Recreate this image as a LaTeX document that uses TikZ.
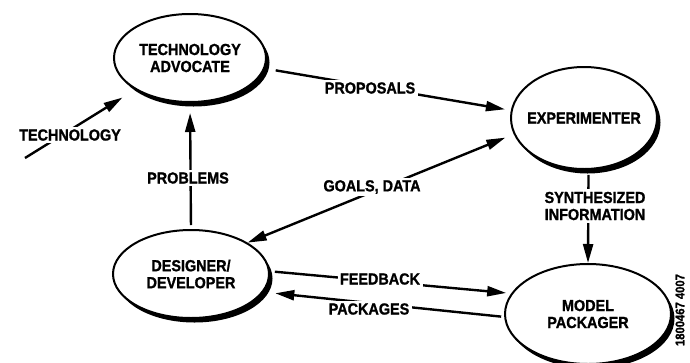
\documentclass[tikz,border=0pt]{standalone}
\usepackage{fontspec}
\newfontfamily\dfont{Liberation Sans}[FakeStretch=0.9, BoldFeatures={FakeBold=1.2}]
\usetikzlibrary{shapes.geometric,shadows,arrows.meta}
\begin{document}
\begin{tikzpicture}[x=1pt,y=-1pt,
  txt/.style={font=\dfont\bfseries\fontsize{16}{17}\selectfont},
  role/.style={ellipse, draw, line width=2pt, fill=white, inner sep=0pt, align=center, txt,
    drop shadow={shadow xshift=3.5pt, shadow yshift=-4.5pt, fill=black, opacity=1}},
  flow/.style={line width=2.4pt, -{Triangle[length=19pt,width=10pt]}},
  bothflow/.style={line width=2.4pt, {Triangle[length=19pt,width=10pt]}-{Triangle[length=19pt,width=10pt]}},
  lbl/.style={fill=white, inner sep=2.5pt, align=center, txt}]
\useasboundingbox (0,0) rectangle (690,362);

\node[role, minimum width=152pt, minimum height=88pt] (adv) at (190,58) {TECHNOLOGY\\ADVOCATE};
\node[role, minimum width=146pt, minimum height=102pt] (exp) at (584,118) {\makebox[0pt]{EXPERIMENTER}};
\node[role, minimum width=156pt, minimum height=88pt] (des) at (191,274) {DESIGNER/\\DEVELOPER};
\node[role, minimum width=166pt, minimum height=100pt] (mp) at (588,314) {MODEL\\PACKAGER};

\coordinate (techsrc) at (25,158);
\draw[flow, shorten >=15pt] (techsrc) -- (adv.210);
\draw[flow, shorten <=11pt, shorten >=6pt] (adv.-8.5) -- (exp.174);
\draw[bothflow, shorten >=9pt] (des.29) -- (exp.193);
\draw[flow, shorten <=4pt, shorten >=10pt] (des.north) -- (adv.south);
\draw[flow, shorten <=5pt] (exp.-85) -- (mp.north);
\draw[flow, shorten <=5pt, shorten >=5pt] (des.2.7) -- (mp.165.8);
\draw[flow, shorten <=3pt, shorten >=12pt] (mp.182.8) -- (des.-14);

\node[lbl] (ltech) at (70,135) {TECHNOLOGY};
\node[lbl] (lprop) at (370,88) {PROPOSALS};
\node[lbl] (lgoal) at (372,187) {GOALS, DATA};
\node[lbl] (lprob) at (188,178) {PROBLEMS};
\node[lbl] (lsyn) at (595,206) {SYNTHESIZED\\INFORMATION};
\node[lbl] (lfeed) at (380,279) {FEEDBACK};
\node[lbl] (lpack) at (369,309) {PACKAGES};
\node[rotate=90, inner sep=0pt, font=\dfont\bfseries\fontsize{12.5}{13}\selectfont] (fid) at (680,310) {1800467 4007};
\end{tikzpicture}
\end{document}
